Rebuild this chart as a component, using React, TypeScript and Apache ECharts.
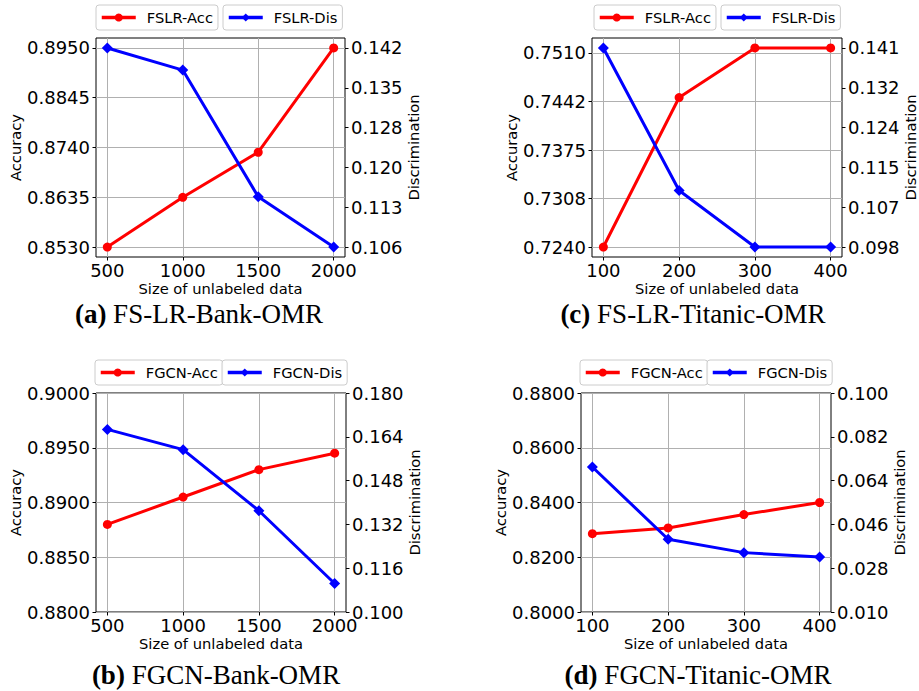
import React, { useEffect, useRef } from "react";
import * as echarts from "echarts";

// ---------- data ----------
const sizesBank = [500, 1000, 1500, 2000];
const sizesTitanic = [100, 200, 300, 400];

const accA = [0.853, 0.8635, 0.873, 0.895];
const disA = [0.142, 0.138, 0.1151, 0.106];
const accB = [0.888, 0.8905, 0.893, 0.8945];
const disB = [0.1667, 0.1593, 0.137, 0.1104];
const accC = [0.724, 0.7448, 0.7517, 0.7517];
const disC = [0.141, 0.1102, 0.098, 0.098];
const accD = [0.8286, 0.8307, 0.8356, 0.84];
const disD = [0.0696, 0.0399, 0.0344, 0.0326];

const accTicksA = [0.853, 0.8635, 0.874, 0.8845, 0.895];
const accLabelsA = ["0.8530", "0.8635", "0.8740", "0.8845", "0.8950"];
const disTicksA = [0.106, 0.1132, 0.1204, 0.1276, 0.1348, 0.142];
const disLabelsA = ["0.106", "0.113", "0.120", "0.128", "0.135", "0.142"];

const accTicksB = [0.88, 0.885, 0.89, 0.895, 0.9];
const accLabelsB = ["0.8800", "0.8850", "0.8900", "0.8950", "0.9000"];
const disTicksB = [0.1, 0.116, 0.132, 0.148, 0.164, 0.18];
const disLabelsB = ["0.100", "0.116", "0.132", "0.148", "0.164", "0.180"];

const accTicksC = [0.724, 0.73075, 0.7375, 0.74425, 0.751];
const accLabelsC = ["0.7240", "0.7308", "0.7375", "0.7442", "0.7510"];
const disTicksC = [0.098, 0.1066, 0.1152, 0.1238, 0.1324, 0.141];
const disLabelsC = ["0.098", "0.107", "0.115", "0.124", "0.132", "0.141"];

const accTicksD = [0.8, 0.82, 0.84, 0.86, 0.88];
const accLabelsD = ["0.8000", "0.8200", "0.8400", "0.8600", "0.8800"];
const disTicksD = [0.01, 0.028, 0.046, 0.064, 0.082, 0.1];
const disLabelsD = ["0.010", "0.028", "0.046", "0.064", "0.082", "0.100"];

const xLabel = "Size of unlabeled data";
const accName = "Accuracy";
const disName = "Discrimination";

// matplotlib-like 5% padding
const pad = (arr: number[]) => {
  const lo = Math.min(...arr);
  const hi = Math.max(...arr);
  const m = (hi - lo) * 0.05;
  return [lo - m, hi + m];
};

const panels = [
  {
    x: sizesBank, xRange: pad(sizesBank), acc: accA, dis: disA,
    accRange: pad(accA), disRange: pad(disA),
    accTicks: accTicksA, accLabels: accLabelsA, disTicks: disTicksA, disLabels: disLabelsA,
    names: ["FSLR-Acc", "FSLR-Dis"],
    caption: ["(a)", "FS-LR-Bank-OMR"],
    grid: { left: 96, top: 38, width: 249, height: 219 },
    legend: [{ left: 96, top: 5 }, { left: 223, top: 5 }],
    cap: { x: 199, y: 314 },
  },
  {
    x: sizesBank, xRange: pad(sizesBank), acc: accB, dis: disB,
    accRange: [0.88, 0.9], disRange: [0.1, 0.18],
    accTicks: accTicksB, accLabels: accLabelsB, disTicks: disTicksB, disLabels: disLabelsB,
    names: ["FGCN-Acc", "FGCN-Dis"],
    caption: ["(b)", "FGCN-Bank-OMR"],
    grid: { left: 96, top: 393, width: 250, height: 219 },
    legend: [{ left: 95, top: 360 }, { left: 222, top: 360 }],
    cap: { x: 216, y: 675 },
  },
  {
    x: sizesTitanic, xRange: pad(sizesTitanic), acc: accC, dis: disC,
    accRange: pad(accC), disRange: pad(disC),
    accTicks: accTicksC, accLabels: accLabelsC, disTicks: disTicksC, disLabels: disLabelsC,
    names: ["FSLR-Acc", "FSLR-Dis"],
    caption: ["(c)", "FS-LR-Titanic-OMR"],
    grid: { left: 592, top: 38, width: 250, height: 219 },
    legend: [{ left: 594, top: 5 }, { left: 721, top: 5 }],
    cap: { x: 693, y: 314 },
  },
  {
    x: sizesTitanic, xRange: pad(sizesTitanic), acc: accD, dis: disD,
    accRange: [0.8, 0.88], disRange: [0.01, 0.1],
    accTicks: accTicksD, accLabels: accLabelsD, disTicks: disTicksD, disLabels: disLabelsD,
    names: ["FGCN-Acc", "FGCN-Dis"],
    caption: ["(d)", "FGCN-Titanic-OMR"],
    grid: { left: 581, top: 393, width: 250, height: 219 },
    legend: [{ left: 580, top: 360 }, { left: 707, top: 360 }],
    cap: { x: 698, y: 675 },
  },
];

const FONT = "DejaVu Sans";
const nearestLabel = (ticks: number[], labels: string[]) => (v: number) => {
  let best = 0;
  for (let i = 1; i < ticks.length; i++) {
    if (Math.abs(ticks[i] - v) < Math.abs(ticks[best] - v)) best = i;
  }
  return labels[best];
};

function buildOption() {
  const grid = panels.map((p) => ({
    ...p.grid,
    show: true,
    borderColor: "#000",
    borderWidth: 1,
    backgroundColor: "transparent",
    containLabel: false,
    outerBoundsMode: "none",
  }));

  const xAxis = panels.map((p, i) => ({
    type: "value",
    gridIndex: i,
    min: p.xRange[0],
    max: p.xRange[1],
    name: xLabel,
    nameLocation: "middle",
    nameGap: 24,
    nameTextStyle: { fontSize: 14.7, color: "#000", fontFamily: FONT },
    axisLine: { show: false },
    axisTick: { show: true, customValues: p.x, length: 3.5, lineStyle: { color: "#000", width: 1 } },
    axisLabel: {
      customValues: p.x,
      fontSize: 18,
      color: "#000",
      margin: 4,
      fontFamily: FONT,
      hideOverlap: false,
      formatter: (v: number) => String(Math.round(v)),
    },
    splitLine: { show: true, lineStyle: { color: "#b0b0b0", width: 1 } },
  }));

  const leftY = panels.map((p, i) => ({
    type: "value",
    gridIndex: i,
    position: "left",
    min: p.accRange[0],
    max: p.accRange[1],
    name: accName,
    nameLocation: "middle",
    nameRotate: 90,
    nameGap: 73,
    nameTextStyle: { fontSize: 14.7, color: "#000", fontFamily: FONT },
    axisLine: { show: false },
    axisTick: { show: true, customValues: p.accTicks, length: 3.5, lineStyle: { color: "#000", width: 1 } },
    axisLabel: {
      customValues: p.accTicks,
      fontSize: 18,
      color: "#000",
      margin: 6,
      fontFamily: FONT,
      formatter: nearestLabel(p.accTicks, p.accLabels),
      hideOverlap: false,
    },
    splitLine: { show: true, lineStyle: { color: "#b0b0b0", width: 1 } },
  }));

  const rightY = panels.map((p, i) => ({
    type: "value",
    gridIndex: i,
    position: "right",
    min: p.disRange[0],
    max: p.disRange[1],
    name: disName,
    nameLocation: "middle",
    nameRotate: 90,
    nameGap: 60,
    nameTextStyle: { fontSize: 14.7, color: "#000", fontFamily: FONT },
    axisLine: { show: false },
    axisTick: { show: true, customValues: p.disTicks, length: 3.5, lineStyle: { color: "#000", width: 1 } },
    axisLabel: {
      customValues: p.disTicks,
      fontSize: 18,
      color: "#000",
      margin: 6,
      fontFamily: FONT,
      formatter: nearestLabel(p.disTicks, p.disLabels),
      hideOverlap: false,
    },
    splitLine: { show: false },
  }));

  const series: any[] = [];
  panels.forEach((p, i) => {
    series.push({
      type: "line",
      name: p.names[0],
      xAxisIndex: i,
      yAxisIndex: i,
      data: p.x.map((v, j) => [v, p.acc[j]]),
      symbol: "circle",
      symbolSize: 9,
      lineStyle: { color: "#ff0000", width: 3 },
      itemStyle: { color: "#ff0000" },
      z: 3,
      clip: false,
    });
  });
  panels.forEach((p, i) => {
    series.push({
      type: "line",
      name: p.names[1],
      xAxisIndex: i,
      yAxisIndex: panels.length + i,
      data: p.x.map((v, j) => [v, p.dis[j]]),
      symbol: "diamond",
      symbolSize: 11,
      lineStyle: { color: "#0000ff", width: 3 },
      itemStyle: { color: "#0000ff" },
      z: 4,
      clip: false,
    });
  });

  const legend: any[] = [];
  panels.forEach((p) => {
    p.names.forEach((n, k) => {
      legend.push({
        data: [n],
        left: p.legend[k].left,
        top: p.legend[k].top,
        orient: "horizontal",
        padding: [5, 5, 5, 4],
        itemWidth: 34,
        itemHeight: 10,
        borderColor: "#cccccc",
        borderWidth: 1,
        borderRadius: 3,
        backgroundColor: "rgba(255,255,255,0.8)",
        selectedMode: false,
        lineStyle: { width: 3.5 },
        textStyle: { fontSize: 14.7, color: "#000", fontFamily: FONT, padding: [0, 0, 0, 6] },
        z: 10,
      });
    });
  });

  const graphic = panels.map((p) => ({
    type: "text",
    x: p.cap.x,
    y: p.cap.y,
    style: {
      text: `{b|${p.caption[0]}} ${p.caption[1]}`,
      align: "center",
      verticalAlign: "middle",
      fill: "#000",
      font: '27px "Liberation Serif"',
      rich: {
        b: { fontWeight: "bold", fontSize: 27, fontFamily: "Liberation Serif", fill: "#000" },
      },
    },
  }));

  return {
    animation: false,
    backgroundColor: "#fff",
    textStyle: { fontFamily: FONT },
    grid,
    xAxis,
    yAxis: [...leftY, ...rightY],
    series,
    legend,
    graphic,
  };
}

export default function App() {
  const ref = useRef<HTMLDivElement>(null);
  useEffect(() => {
    document.body.style.margin = "0";
    if (!ref.current) return;
    const chart = echarts.init(ref.current, undefined, { renderer: "svg" });
    chart.setOption(buildOption() as any);
    return () => chart.dispose();
  }, []);
  return <div ref={ref} style={{ width: 919, height: 691 }} />;
}
